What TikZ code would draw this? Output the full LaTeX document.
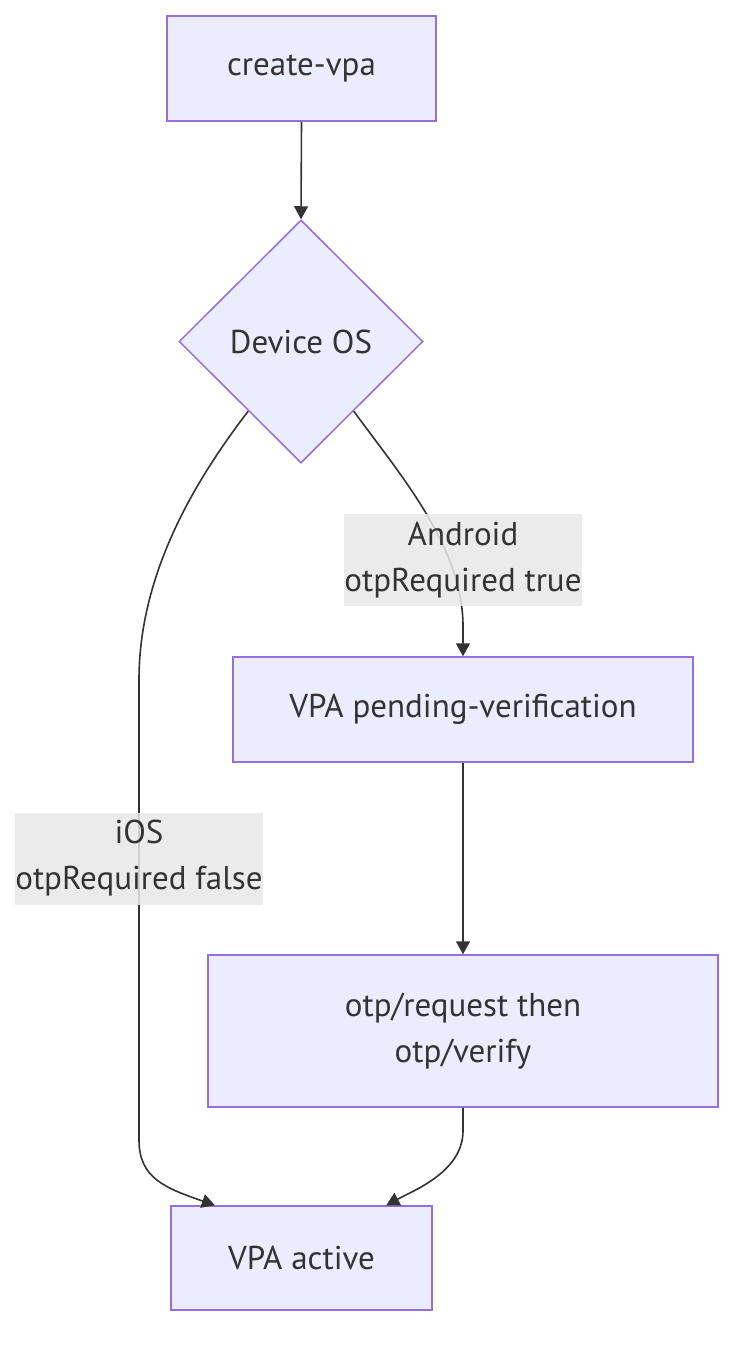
\documentclass[tikz,border=0pt]{standalone}
\usepackage{fontspec}
\setmainfont{PT Sans}
\usetikzlibrary{shapes.geometric,arrows.meta,calc}
\definecolor{nodefill}{HTML}{ECECFF}
\definecolor{nodeline}{HTML}{9370DB}
\definecolor{edgecol}{HTML}{333333}
\definecolor{labfill}{HTML}{E8E8E8}
\begin{document}
\begin{tikzpicture}[x=1pt,y=-1pt,
  box/.style={draw=nodeline,fill=nodefill,line width=1.5pt,inner sep=0pt,
    font=\fontsize{33}{46}\selectfont,text=edgecol,align=center},
  dia/.style={diamond,aspect=1,draw=nodeline,fill=nodefill,line width=1.5pt,inner sep=0pt,
    font=\fontsize{33}{46}\selectfont,text=edgecol,minimum width=244pt,minimum height=243pt},
  elabel/.style={fill=labfill,fill opacity=0.85,text opacity=1,inner sep=0pt,
    font=\fontsize{33}{46}\selectfont,text=edgecol,align=center,minimum height=92pt},
  conn/.style={draw=edgecol,line width=1.6pt,-{Triangle[length=13pt,width=14pt]}}
]
\useasboundingbox (0,0) rectangle (750,1354);
\node[box,minimum width=269pt,minimum height=105pt] (create) at (301.5,68.5) {create-vpa};
\node[dia] (dev) at (301,341.5) {Device OS};
\node[box,minimum width=460pt,minimum height=105pt] (pend) at (463,709.5) {VPA pending-verification};
\node[box,minimum width=510pt,minimum height=152pt] (otp) at (463,1031) {otp/request then\\otp/verify};
\node[box,minimum width=261pt,minimum height=104pt] (act) at (301.5,1258) {VPA active};

\coordinate (dl) at ($(dev.west)!0.57!(dev.south)$);
\coordinate (dr) at ($(dev.east)!0.57!(dev.south)$);
\coordinate (actl) at ($(act.north west)!0.17!(act.north east)$);
\coordinate (actr) at ($(act.north west)!0.823!(act.north east)$);

% edges
\draw[conn] (create.south) -- (dev.north);
\draw[conn] (dr) .. controls +(45,62) and +(0,-80) .. ($(pend.north)+(0,-30)$) -- (pend.north);
\draw[conn] (dl) .. controls +(-60,78) and +(0,-100) .. (139,680) -- (139,1140)
   .. controls (139,1178) and (165,1188) .. (actl);
\draw[conn] (pend.south) -- (otp.north);
\draw[conn] (otp.south) -- ($(otp.south)+(0,23)$) .. controls +(0,40) and +(30,-16) .. (actr);

% labels
\node[elabel,minimum width=238pt] (lab1) at (463,560) {Android\\otpRequired true};
\node[elabel,minimum width=246pt] (lab2) at (139,858.5) {iOS\\otpRequired false};
\end{tikzpicture}
\end{document}
